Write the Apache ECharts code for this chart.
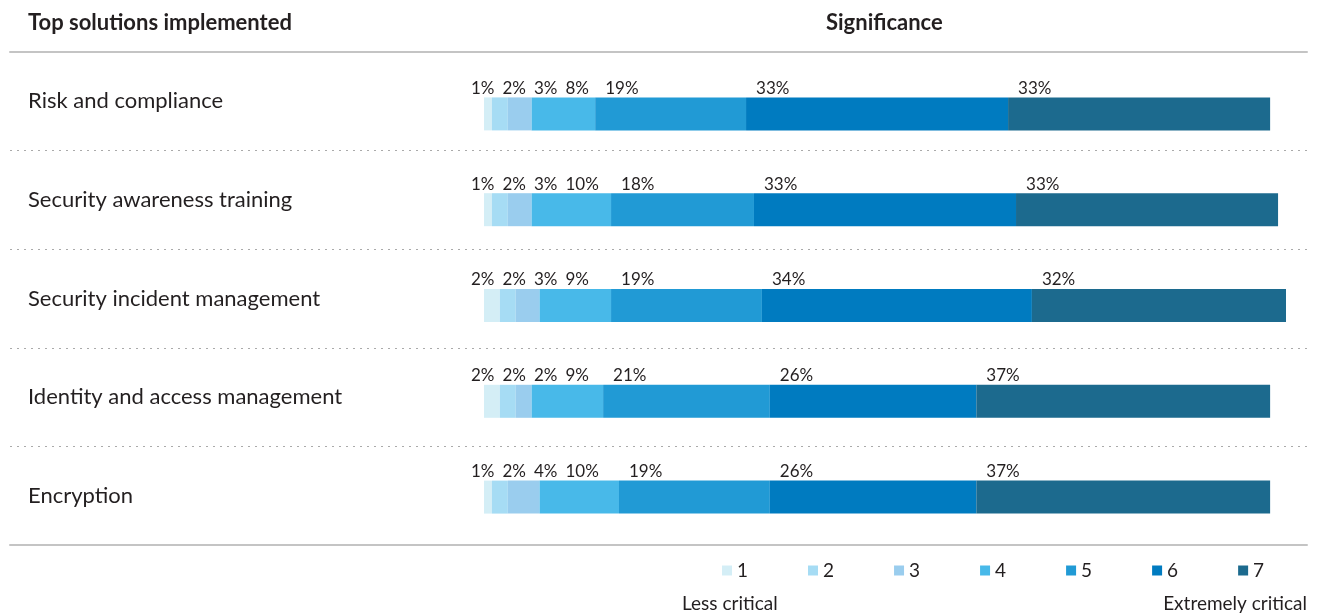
<!DOCTYPE html>
<html>
<head>
<meta charset="utf-8">
<script src="https://cdn.jsdelivr.net/npm/echarts@6/dist/echarts.min.js"></script>
<style>
  html, body { margin: 0; padding: 0; background: #fff; }
  #chart { width: 1317px; height: 614px; }
</style>
</head>
<body>
<div id="chart"></div>
<script>
// data
var solutions = ['Risk and compliance', 'Security awareness training', 'Security incident management', 'Identity and access management', 'Encryption'];
var levels = ['1', '2', '3', '4', '5', '6', '7'];
var level1 = [1, 1, 2, 2, 1];
var level2 = [2, 2, 2, 2, 2];
var level3 = [3, 3, 3, 2, 4];
var level4 = [8, 10, 9, 9, 10];
var level5 = [19, 18, 19, 21, 19];
var level6 = [33, 33, 34, 26, 26];
var level7 = [33, 33, 32, 37, 37];
var levelData = [level1, level2, level3, level4, level5, level6, level7];

var colors = ['#d4eef6', '#a6dcf4', '#9acdee', '#48b9e9', '#219ad5', '#007bc0', '#1c6a8e'];
var FONT = 'Lato';
var LABEL_SIZE = 17;

var chart = echarts.init(document.getElementById('chart'));

// text width for label spreading
var ctx = document.createElement('canvas').getContext('2d');
ctx.font = LABEL_SIZE + 'px ' + FONT;
function textW(s) { return ctx.measureText(s).width; }

// percent labels sit above the segment start, pushed right so they do not overlap
function labelLeft(row, s, rect) {
    var k = rect.width / levelData[s][row];
    var cum = 0;
    for (var j = 0; j < s; j++) cum += levelData[j][row];
    var x0 = rect.x - cum * k;
    var x = -Infinity, prevW = 0, acc = 0;
    for (var j = 0; j <= s; j++) {
        var v = levelData[j][row];
        var start = x0 + acc * k;
        var want = j === 0 ? start - 13 : start + (v * k > 60 ? 10 : -2);
        x = Math.max(want, x + prevW + 8);
        prevW = textW(v + '%');
        acc += v;
    }
    return x;
}

var series = levels.map(function (name, s) {
    return {
        name: name,
        type: 'bar',
        stack: 'total',
        barWidth: 33,
        xAxisIndex: 0,
        yAxisIndex: 0,
        itemStyle: { color: colors[s] },
        label: {
            show: true,
            formatter: '{c}%',
            color: '#231f20',
            fontSize: LABEL_SIZE,
            fontFamily: FONT
        },
        labelLayout: function (p) {
            return {
                x: labelLeft(p.dataIndex, p.seriesIndex, p.rect),
                y: p.rect.y - 9,
                align: 'left',
                verticalAlign: 'middle'
            };
        },
        emphasis: { disabled: true },
        data: levelData[s]
    };
});

var option = {
    backgroundColor: '#FFFFFF',
    animation: false,
    textStyle: { fontFamily: FONT },
    title: [
        { text: 'Top solutions implemented', left: 23, top: 7,
          textStyle: { fontSize: 22, fontWeight: 'bold', color: '#231f20', fontFamily: FONT } },
        { text: 'Significance', left: 821, top: 7,
          textStyle: { fontSize: 22, fontWeight: 'bold', color: '#231f20', fontFamily: FONT } },
        { text: 'Less critical', left: 677, top: 589,
          textStyle: { fontSize: 19, fontWeight: 'normal', color: '#231f20', fontFamily: FONT } },
        { text: 'Extremely critical', right: 5, top: 589,
          textStyle: { fontSize: 19, fontWeight: 'normal', color: '#231f20', fontFamily: FONT } }
    ],
    legend: {
        data: levels,
        left: 717,
        top: 556,
        icon: 'rect',
        itemWidth: 10,
        itemHeight: 10,
        itemGap: 60,
        textStyle: { fontSize: 19, color: '#231f20', fontFamily: FONT },
        selectedMode: false
    },
    grid: [
        { left: 484, right: 31, top: 66, bottom: 69 },
        { left: 10, right: 10, top: 52, bottom: 69 }
    ],
    xAxis: [
        { gridIndex: 0, type: 'value', min: 0, max: 101, show: false },
        { gridIndex: 1, type: 'value', min: 0, max: 1, position: 'top',
          axisLine: { show: true, lineStyle: { color: '#c4c4c4', width: 2 } },
          axisTick: { show: false }, axisLabel: { show: false }, splitLine: { show: false } },
        { gridIndex: 1, type: 'value', min: 0, max: 1, position: 'bottom',
          axisLine: { show: true, lineStyle: { color: '#c4c4c4', width: 2 } },
          axisTick: { show: false }, axisLabel: { show: false }, splitLine: { show: false } }
    ],
    yAxis: [
        { gridIndex: 0, type: 'category', data: solutions, inverse: true, show: false },
        { gridIndex: 1, type: 'category', data: solutions, inverse: true,
          axisLine: { show: false }, axisTick: { show: false },
          axisLabel: { inside: true, margin: 18, fontSize: 22, color: '#231f20', fontFamily: FONT },
          splitLine: { show: true, lineStyle: { color: '#aaaaaa', width: 1, type: [2, 5] } } }
    ],
    series: series
};

chart.setOption(option);
</script>
</body>
</html>
